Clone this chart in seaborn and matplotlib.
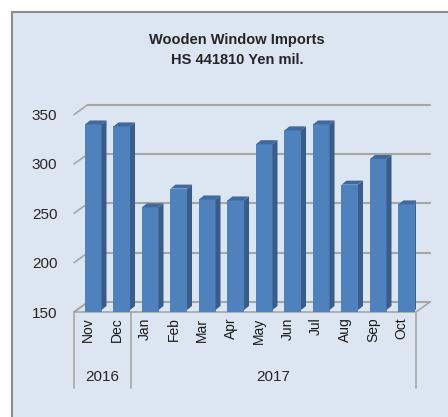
import matplotlib
matplotlib.use("Agg")
import numpy as np
import pandas as pd
import matplotlib.pyplot as plt
import matplotlib.transforms as mtransforms
from matplotlib.patches import Polygon, Rectangle
import seaborn as sns

# ------------------------------------------------------------
# data
# ------------------------------------------------------------
months = ["Nov", "Dec", "Jan", "Feb", "Mar", "Apr", "May", "Jun", "Jul", "Aug", "Sep", "Oct"]
values = [338, 336, 254, 273, 262, 261, 318, 332, 338, 277, 303, 257]
years = ["2016", "2017"]
months_per_year = [2, 10]
yticks = [150, 200, 250, 300, 350]

title_1 = "Wooden Window Imports"
title_2 = "HS 441810 Yen mil."

BG = "#dce6f2"
FRONT = "#4f81bd"
SIDE = "#385d8a"
TOP = "#41699c"
GRID = "#a6a6a6"

sns.set_style("white")
plt.rcParams["font.family"] = ["Liberation Sans", "DejaVu Sans"]

df = pd.DataFrame({"month": months, "value": values})

W, H = 448, 417
fig = plt.figure(figsize=(W / 100, H / 100), dpi=100)
fig.patch.set_facecolor("white")

# chart area background with border on top / left
fig.patches.append(Rectangle((12 / W, 0), 1, 1 - 12 / H, transform=fig.transFigure,
                             facecolor=BG, edgecolor="none", zorder=-10))
fig.lines.append(plt.Line2D([12 / W, 1], [1 - 12 / H, 1 - 12 / H], transform=fig.transFigure,
                            color="#8c8c8c", lw=1.5, zorder=-5))
fig.lines.append(plt.Line2D([12 / W, 12 / W], [0, 1 - 12 / H], transform=fig.transFigure,
                            color="#8c8c8c", lw=1.5, zorder=-5))

ax = fig.add_axes([74 / W, 1 - 312 / H, (416 - 74) / W, (312 - 114.6) / H])

sns.barplot(data=df, x="month", y="value", color=FRONT, width=0.58,
            saturation=1, ax=ax, zorder=3)
ax.patch.set_alpha(0)
ax.set_ylim(150, 350)
ax.set_xlim(-0.5, len(months) - 0.5)
for s in ax.spines.values():
    s.set_visible(False)

# back wall / floor offset (pixels)
dx, dy = 14, 10
back = ax.transData + mtransforms.ScaledTranslation(dx / 100, dy / 100, fig.dpi_scale_trans)

x0, x1 = -0.5, len(months) - 0.5
for y in yticks:
    ax.plot([x0, x1], [y, y], color=GRID, lw=1.5, transform=back, clip_on=False, zorder=1)
# diagonals from front axis to back wall
for y in yticks:
    p0 = ax.transData.transform((x0, y))
    ax.add_line(plt.Line2D([p0[0], p0[0] + dx], [p0[1], p0[1] + dy], color=GRID, lw=1.2,
                           transform=None, clip_on=False, zorder=1))
# floor outline
f0 = ax.transData.transform((x0, 150))
f1 = ax.transData.transform((x1, 150))
floor = Polygon([f0, f1, f1 + [dx, dy], f0 + [dx, dy]], closed=True, facecolor="none",
                edgecolor=GRID, lw=1.2, transform=None, clip_on=False, zorder=1)

# 3d bar faces
sdx, sdy = 5, 4
shift = mtransforms.ScaledTranslation(5 / 100, 2 / 100, fig.dpi_scale_trans)
bars = list(ax.patches)
for bar in bars:
    bx, bw, bh = bar.get_x(), bar.get_width(), bar.get_height()
    bar.set_transform(ax.transData + shift)
    bar.set_edgecolor("none")
    bl = ax.transData.transform((bx, 150)) + [5, 2]
    tl = ax.transData.transform((bx, bh)) + [5, 2]
    tr = ax.transData.transform((bx + bw, bh)) + [5, 2]
    br = ax.transData.transform((bx + bw, 150)) + [5, 2]
    ax.add_patch(Polygon([br, tr, tr + [sdx, sdy], br + [sdx, sdy]], closed=True,
                         facecolor=SIDE, edgecolor="none", transform=None, zorder=3))
    ax.add_patch(Polygon([tl, tr, tr + [sdx, sdy], tl + [sdx, sdy]], closed=True,
                         facecolor=TOP, edgecolor="none", transform=None, zorder=3))
ax.add_patch(floor)

# axes labels
ax.set_yticks(yticks)
ax.set_yticklabels([str(v) for v in yticks], fontsize=11, color="#262626")
ax.tick_params(axis="y", length=0, pad=12)
ax.set_xticks(range(len(months)))
ax.set_xticklabels(months, rotation=90, fontsize=10, color="#1a1a1a", va="top")
ax.tick_params(axis="x", length=0, pad=4)
ax.set_xlabel("")
ax.set_ylabel("")

# year grouping
bt = mtransforms.blended_transform_factory(ax.transData, ax.transAxes)
edges = np.concatenate([[0], np.cumsum(months_per_year)]) - 0.5
for e in edges:
    ax.plot([e, e], [0, -0.385], color="#a6a6a6", lw=1.2, transform=bt, clip_on=False)
for i, yr in enumerate(years):
    ax.text((edges[i] + edges[i + 1]) / 2, -0.33, yr, transform=bt, ha="center", va="center",
            fontsize=11, color="#262626")

fig.text(237 / W, 1 - 40 / H, title_1, ha="center", va="center", fontsize=10.5, fontweight="bold")
fig.text(237 / W, 1 - 60 / H, title_2, ha="center", va="center", fontsize=10.5, fontweight="bold")

fig.savefig("out.png", dpi=100)
